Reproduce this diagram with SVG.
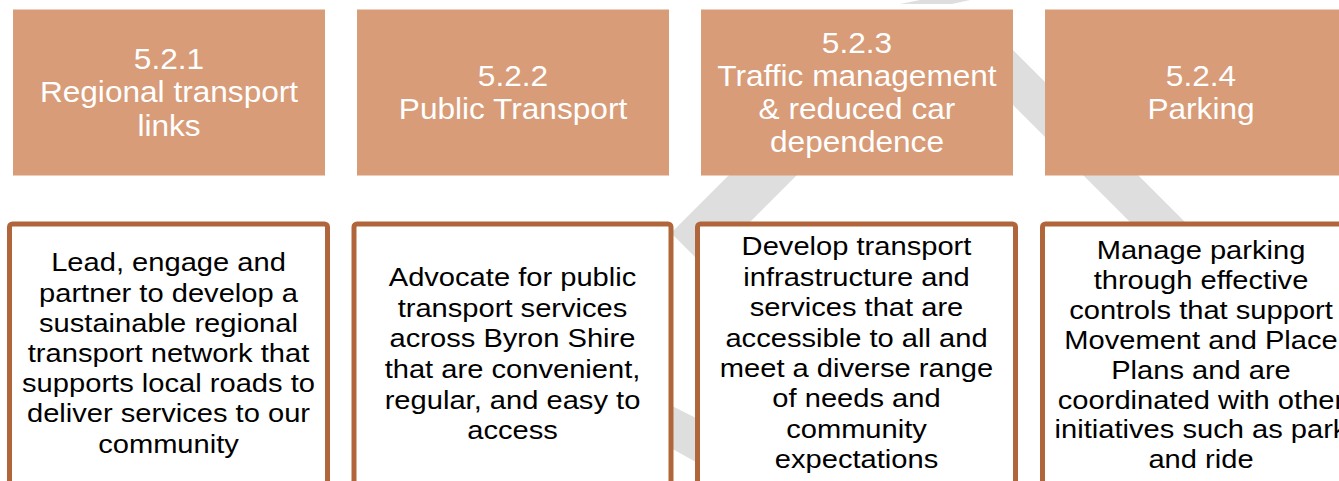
<svg xmlns="http://www.w3.org/2000/svg" width="1339" height="481" viewBox="0 0 1339 481">
<style>
.hdr{fill:#d89c78;}
.bx{fill:#ffffff;stroke:#b0663a;stroke-width:5;}
.ht{font-family:"Liberation Sans",Arial,sans-serif;font-size:29px;fill:#ffffff;text-anchor:middle;}
.bt{font-family:"Liberation Sans",Arial,sans-serif;font-size:26px;fill:#000000;text-anchor:middle;}
.wm{fill:#dedede;}
</style>
<rect width="1339" height="481" fill="#ffffff"/>
<g id="watermark">
<polygon class="wm" points="920,0 970,0 952,4 900,4"/>
<polygon class="wm" points="894,10 962,10 705,267 671,233"/>
<polygon class="wm" points="918,10 973,10 1223,260 1168,260"/>
<polygon class="wm" points="660,400 712,426 712,471 660,442"/>
</g>
<g id="connectors"></g>
<g id="h1">
<rect class="hdr" x="13" y="9.5" width="312" height="166"/>
<text class="ht" transform="translate(169 0) scale(1.09 1)"><tspan x="0" y="69">5.2.1</tspan><tspan x="0" y="102.3">Regional transport</tspan><tspan x="0" y="135.6">links</tspan></text>
</g>
<g id="h2">
<rect class="hdr" x="357" y="9.5" width="312" height="166"/>
<text class="ht" transform="translate(513 0) scale(1.09 1)"><tspan x="0" y="86">5.2.2</tspan><tspan x="0" y="119">Public Transport</tspan></text>
</g>
<g id="h3">
<rect class="hdr" x="701" y="9.5" width="312" height="166"/>
<text class="ht" transform="translate(857 0) scale(1.09 1)"><tspan x="0" y="53.3">5.2.3</tspan><tspan x="0" y="86">Traffic management</tspan><tspan x="0" y="118.6">&amp; reduced car</tspan><tspan x="0" y="151.6">dependence</tspan></text>
</g>
<g id="h4">
<rect class="hdr" x="1045" y="9.5" width="312" height="166"/>
<text class="ht" transform="translate(1201 0) scale(1.09 1)"><tspan x="0" y="86">5.2.4</tspan><tspan x="0" y="118.6">Parking</tspan></text>
</g>
<g id="b1">
<rect class="bx" x="9.5" y="224" width="318" height="280" rx="3"/>
<text class="bt" transform="translate(168.5 0) scale(1.12 1)"><tspan x="0" y="271.5">Lead, engage and</tspan><tspan x="0" y="301.7">partner to develop a</tspan><tspan x="0" y="331.9">sustainable regional</tspan><tspan x="0" y="362.1">transport network that</tspan><tspan x="0" y="392.3">supports local roads to</tspan><tspan x="0" y="422.5">deliver services to our</tspan><tspan x="0" y="452.7">community</tspan></text>
</g>
<g id="b2">
<rect class="bx" x="354" y="224" width="317" height="280" rx="3"/>
<text class="bt" transform="translate(512.5 0) scale(1.12 1)"><tspan x="0" y="286.3">Advocate for public</tspan><tspan x="0" y="316.9">transport services</tspan><tspan x="0" y="347.5">across Byron Shire</tspan><tspan x="0" y="378.1">that are convenient,</tspan><tspan x="0" y="408.7">regular, and easy to</tspan><tspan x="0" y="439.3">access</tspan></text>
</g>
<g id="b3">
<rect class="bx" x="697.5" y="224" width="318" height="280" rx="3"/>
<text class="bt" transform="translate(856.5 0) scale(1.12 1)"><tspan x="0" y="255.5">Develop transport</tspan><tspan x="0" y="285.9">infrastructure and</tspan><tspan x="0" y="316.3">services that are</tspan><tspan x="0" y="346.7">accessible to all and</tspan><tspan x="0" y="377.1">meet a diverse range</tspan><tspan x="0" y="407.5">of needs and</tspan><tspan x="0" y="437.9">community</tspan><tspan x="0" y="468.3">expectations</tspan></text>
</g>
<g id="b4">
<rect class="bx" x="1042.5" y="224" width="318" height="280" rx="3"/>
<text class="bt" transform="translate(1201 0) scale(1.12 1)"><tspan x="0" y="259.5">Manage parking</tspan><tspan x="0" y="289.3">through effective</tspan><tspan x="0" y="319.1">controls that support</tspan><tspan x="0" y="348.9">Movement and Place</tspan><tspan x="0" y="378.7">Plans and are</tspan><tspan x="0" y="408.5">coordinated with other</tspan><tspan x="0" y="438.3">initiatives such as park</tspan><tspan x="0" y="468.1">and ride</tspan></text>
</g>
</svg>
